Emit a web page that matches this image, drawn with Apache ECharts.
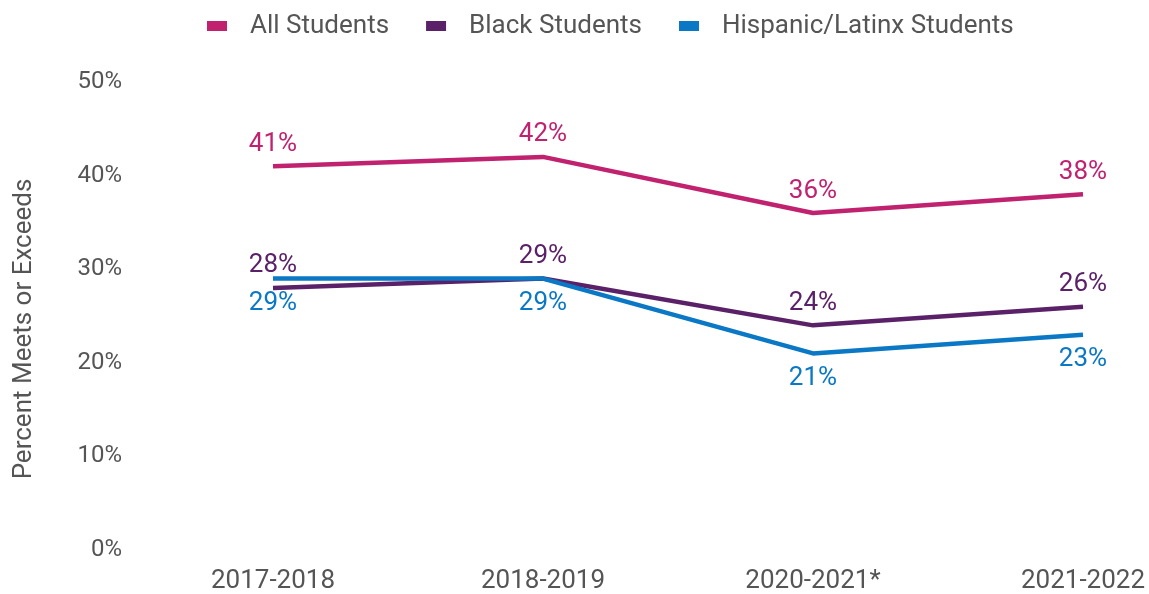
<!DOCTYPE html>
<html>
<head>
<meta charset="utf-8">
<script src="https://cdn.jsdelivr.net/npm/echarts@6/dist/echarts.min.js"></script>
<style>
  html, body { margin: 0; padding: 0; background: #fff; }
  #chart { width: 1149px; height: 594px; }
</style>
</head>
<body>
<div id="chart"></div>
<script>
// School years on the x axis
const years = ['2017-2018', '2018-2019', '2020-2021*', '2021-2022'];

// Percent meeting or exceeding the standard, by student group
const allStudents = [41, 42, 36, 38];
const blackStudents = [28, 29, 24, 26];
const hispanicStudents = [29, 29, 21, 23];

const seriesNames = ['All Students', 'Black Students', 'Hispanic/Latinx Students'];
const seriesColors = ['#c0226f', '#5b2168', '#0a78c5'];

const textGrey = '#555555';
const fontFamily = 'Roboto, "Noto Sans", sans-serif';

function lineSeries(name, data, color, labelPos, dist) {
  return {
    name: name,
    type: 'line',
    data: data,
    symbol: 'circle',
    symbolSize: 0,
    showSymbol: true,
    lineStyle: { color: color, width: 4.5 },
    itemStyle: { color: color },
    label: {
      show: true,
      position: labelPos,
      distance: dist,
      color: color,
      fontSize: 26,
      fontFamily: fontFamily,
      formatter: p => p.value + '%'
    },
    labelLayout: { hideOverlap: false },
    emphasis: { disabled: true }
  };
}

const chart = echarts.init(document.getElementById('chart'));
chart.setOption({
  animation: false,
  backgroundColor: '#ffffff',
  legend: {
    top: 8,
    left: 202,
    itemWidth: 20,
    itemHeight: 10,
    itemGap: 37,
    icon: 'rect',
    textStyle: { color: textGrey, fontSize: 26, fontFamily: fontFamily, padding: [0, 0, 0, 18] },
    data: seriesNames
  },
  grid: { left: 273, right: 66, top: 82, bottom: 42 },
  xAxis: {
    type: 'category',
    data: years,
    boundaryGap: false,
    axisLine: { show: false },
    axisTick: { show: false },
    axisLabel: { color: textGrey, fontSize: 26, fontFamily: fontFamily, margin: 18 }
  },
  yAxis: {
    type: 'value',
    min: 0,
    max: 50,
    interval: 10,
    name: 'Percent Meets or Exceeds',
    nameLocation: 'middle',
    nameGap: 236,
    nameTextStyle: { color: textGrey, fontSize: 26, fontFamily: fontFamily, padding: [0, 26, 0, 0] },
    axisLine: { show: false },
    axisTick: { show: false },
    splitLine: { show: false },
    axisLabel: {
      color: textGrey, fontSize: 24, fontFamily: fontFamily, margin: 151,
      formatter: v => v + '%'
    }
  },
  series: [
    lineSeries(seriesNames[0], allStudents, seriesColors[0], 'top', 9),
    lineSeries(seriesNames[1], blackStudents, seriesColors[1], 'top', 9),
    lineSeries(seriesNames[2], hispanicStudents, seriesColors[2], 'bottom', 12)
  ]
});
</script>
</body>
</html>
